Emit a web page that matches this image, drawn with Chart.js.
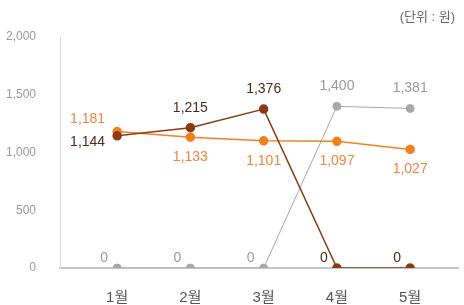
<!DOCTYPE html>
<html lang="ko">
<head>
    <meta charset="UTF-8">
    <title>월별 추이</title>
    <script src="https://cdn.jsdelivr.net/npm/chart.js"></script>
    <style>
        body { margin: 0; background: #fff; }
        .wrap { width: 464px; height: 305px; }
    </style>
</head>
<body>
    <div class="wrap"><canvas id="trendChart"></canvas></div>

    <script>
        const months = ['1월', '2월', '3월', '4월', '5월'];
        const brownValues = [1144, 1215, 1376, 0, 0];
        const orangeValues = [1181, 1133, 1101, 1097, 1027];
        const grayValues = [0, 0, 0, 1400, 1381];
        const yTicks = [0, 500, 1000, 1500, 2000];
        const unitText = '(단위 : 원)';

        const FONT = '"Liberation Sans", Arial, "Noto Sans CJK KR", sans-serif';

        const toPoints = arr => arr.map((v, i) => ({ x: i, y: v }));

        // label placement per point: [dx, dy, align]
        const UP = [0, -20, 'center'], DN = [0, 20, 'center'], Z = [-13, -10, 'center'];

        const pointLabels = {
            id: 'pointLabels',
            afterDatasetsDraw(chart) {
                const ctx = chart.ctx;
                ctx.save();
                ctx.font = '14px ' + FONT;
                ctx.textBaseline = 'middle';
                chart.data.datasets.forEach((ds, di) => {
                    const meta = chart.getDatasetMeta(di);
                    meta.data.forEach((pt, i) => {
                        const p = ds.labelPos[i];
                        ctx.fillStyle = ds.labelColor;
                        ctx.textAlign = p[2];
                        ctx.fillText(ds.data[i].y.toLocaleString('en-US'), pt.x + p[0], pt.y + p[1]);
                    });
                });
                ctx.restore();
            }
        };

        const unitLabel = {
            id: 'unitLabel',
            afterDraw(chart) {
                const ctx = chart.ctx;
                ctx.save();
                ctx.font = '13px ' + FONT;
                ctx.fillStyle = '#666';
                ctx.textAlign = 'right';
                ctx.textBaseline = 'middle';
                ctx.fillText(unitText, 455, 17);
                ctx.restore();
            }
        };

        const ctx = document.getElementById('trendChart').getContext('2d');
        const trendChart = new Chart(ctx, {
            type: 'line',
            data: {
                datasets: [
                    {
                        data: toPoints(brownValues),
                        borderColor: '#8a3b16',
                        backgroundColor: '#8a3b16',
                        borderWidth: 1.5,
                        pointRadius: 4,
                        labelColor: '#4d2a1e',
                        labelPos: [[-12, 6, 'right'], UP, UP, Z, Z]
                    },
                    {
                        data: toPoints(orangeValues),
                        borderColor: '#f3801f',
                        backgroundColor: '#f3801f',
                        borderWidth: 1.5,
                        pointRadius: 4,
                        labelColor: '#f0843a',
                        labelPos: [[-12, -12, 'right'], DN, DN, DN, DN]
                    },
                    {
                        data: toPoints(grayValues),
                        borderColor: '#a8a8a8',
                        backgroundColor: '#a8a8a8',
                        borderWidth: 1,
                        pointRadius: 4,
                        labelColor: '#9a9a9a',
                        labelPos: [Z, Z, Z, UP, UP]
                    }
                ]
            },
            options: {
                responsive: true,
                maintainAspectRatio: false,
                animation: false,
                layout: { padding: { top: 37, left: 0, right: 0, bottom: 0 } },
                plugins: {
                    legend: { display: false },
                    tooltip: { enabled: false }
                },
                scales: {
                    x: {
                        type: 'linear',
                        min: -0.78,
                        max: 4.66,
                        afterBuildTicks: s => { s.ticks = months.map((m, i) => ({ value: i })); },
                        afterFit: s => { s.height = 37; },
                        grid: { display: false },
                        border: { color: '#c4c4c4', width: 2 },
                        ticks: {
                            padding: 13,
                            color: '#555',
                            font: { family: FONT, size: 15 },
                            callback: v => months[v]
                        }
                    },
                    y: {
                        min: 0,
                        max: 2000,
                        afterBuildTicks: s => { s.ticks = yTicks.map(v => ({ value: v })); },
                        afterFit: s => { s.width = 60; },
                        grid: { display: false },
                        border: { color: '#d8d8d8', width: 1 },
                        ticks: {
                            padding: 16,
                            color: '#999',
                            font: { family: FONT, size: 12 },
                            callback: v => v.toLocaleString('en-US')
                        }
                    }
                }
            },
            plugins: [pointLabels, unitLabel]
        });
    </script>
</body>
</html>
